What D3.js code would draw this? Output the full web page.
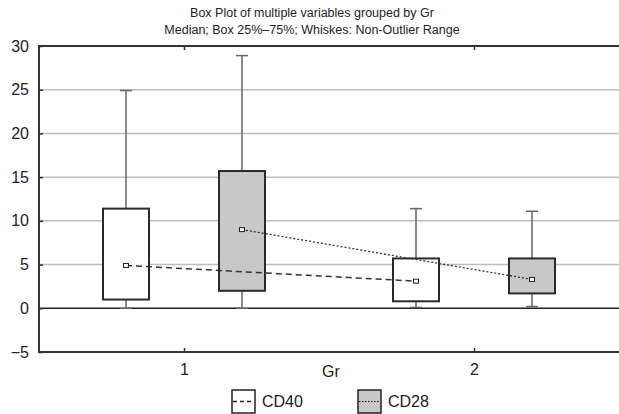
<!DOCTYPE html>
<html>
<head>
<meta charset="utf-8">
<script src="https://cdn.jsdelivr.net/npm/d3@7"></script>
<style>
  body { margin: 0; background: #fff; }
  svg text { font-family: "Liberation Sans Narrow", "Liberation Sans", Arial, sans-serif; fill: #222; }
</style>
</head>
<body>
<div id="chart"></div>
<script>
"use strict";

// groups on the x axis
var groups = [1, 2];
var seriesNames = ["CD40", "CD28"];
var seriesFill = ["#ffffff", "#c8c8c8"];
var seriesDash = ["6,4", "2,2"];

// per series, one value per group
var whiskerMin = [[0, 0.1], [0, 0.2]];
var boxLow = [[1.0, 0.8], [2.0, 1.7]];
var median = [[4.9, 3.1], [9.0, 3.3]];
var boxHigh = [[11.4, 5.7], [15.7, 5.7]];
var whiskerMax = [[24.9, 11.4], [28.9, 11.1]];

var yTicks = [-5, 0, 5, 10, 15, 20, 25, 30];

var width = 619, height = 414;
var margin = { top: 46, right: 0, bottom: 62, left: 39 };

var svg = d3.select("#chart").append("svg")
  .attr("width", width)
  .attr("height", height);

var x = d3.scaleLinear().domain([0.5, 2.5]).range([margin.left, width - margin.right]);
var y = d3.scaleLinear().domain([-5, 30]).range([height - margin.bottom, margin.top]);

var offset = 0.2;  // series offset from the group centre, in x units
var boxW = 46;

// title
svg.append("text")
  .attr("x", 312).attr("y", 17)
  .attr("text-anchor", "middle")
  .attr("font-size", 12.5)
  .text("Box Plot of multiple variables grouped by Gr");
svg.append("text")
  .attr("x", 312).attr("y", 34)
  .attr("text-anchor", "middle")
  .attr("font-size", 12.5)
  .text("Median; Box 25%\u201375%; Whiskes: Non-Outlier Range");

// grid lines
svg.append("g").selectAll("line")
  .data(yTicks.filter(function(d) { return d > 0 && d < 30; }))
  .enter().append("line")
  .attr("x1", margin.left).attr("x2", width)
  .attr("y1", function(d) { return y(d); })
  .attr("y2", function(d) { return y(d); })
  .attr("stroke", "#bdbdbd")
  .attr("stroke-width", 1.5);

// zero line
svg.append("line")
  .attr("x1", margin.left).attr("x2", width)
  .attr("y1", y(0)).attr("y2", y(0))
  .attr("stroke", "#222").attr("stroke-width", 1.5);

// y axis
var yAxis = svg.append("g")
  .attr("transform", "translate(" + margin.left + ",0)")
  .call(d3.axisLeft(y).tickValues(yTicks).tickSize(-4).tickPadding(10)
    .tickFormat(function(d) { return d < 0 ? "\u2212" + Math.abs(d) : d; }));
yAxis.select(".domain").remove();
yAxis.selectAll(".tick line").attr("stroke", "#333").attr("stroke-width", 1.5);
yAxis.selectAll("text").attr("font-size", 16).attr("fill", "#222");

// x axis (bottom) and top frame
var xAxis = svg.append("g")
  .attr("transform", "translate(0," + y(-5) + ")")
  .call(d3.axisBottom(x).tickValues(groups).tickSize(-4).tickPadding(12).tickFormat(d3.format("d")));
xAxis.select(".domain").remove();
xAxis.selectAll(".tick line").attr("stroke", "#333").attr("stroke-width", 1.5);
xAxis.selectAll("text").attr("font-size", 16).attr("fill", "#222");

var xTop = svg.append("g")
  .attr("transform", "translate(0," + y(30) + ")")
  .call(d3.axisTop(x).tickValues(groups).tickSize(-4).tickFormat(""));
xTop.select(".domain").remove();
xTop.selectAll(".tick line").attr("stroke", "#333").attr("stroke-width", 1.5);

svg.append("path")
  .attr("d", "M" + width + "," + y(30) + "H" + margin.left + "V" + y(-5) + "H" + width)
  .attr("fill", "none")
  .attr("stroke", "#333")
  .attr("stroke-width", 2);

svg.append("text")
  .attr("x", 331).attr("y", 377)
  .attr("text-anchor", "middle")
  .attr("font-size", 16)
  .text("Gr");

// boxes
seriesNames.forEach(function(name, s) {
  var g = svg.append("g");
  var cx = function(i) { return x(groups[i] + (s === 0 ? -offset : offset)); };
  var idx = groups.map(function(d, i) { return i; });

  // whiskers
  g.selectAll("line.whisker").data(idx).enter().append("line")
    .attr("x1", cx).attr("x2", cx)
    .attr("y1", function(i) { return y(whiskerMin[s][i]); })
    .attr("y2", function(i) { return y(whiskerMax[s][i]); })
    .attr("stroke", "#666").attr("stroke-width", 1.5);
  g.selectAll("line.capTop").data(idx).enter().append("line")
    .attr("x1", function(i) { return cx(i) - 6; })
    .attr("x2", function(i) { return cx(i) + 6; })
    .attr("y1", function(i) { return y(whiskerMax[s][i]); })
    .attr("y2", function(i) { return y(whiskerMax[s][i]); })
    .attr("stroke", "#666").attr("stroke-width", 1.5);
  g.selectAll("line.capBot").data(idx).enter().append("line")
    .attr("x1", function(i) { return cx(i) - 6; })
    .attr("x2", function(i) { return cx(i) + 6; })
    .attr("y1", function(i) { return y(whiskerMin[s][i]); })
    .attr("y2", function(i) { return y(whiskerMin[s][i]); })
    .attr("stroke", "#666").attr("stroke-width", 1.5);

  g.selectAll("rect.box").data(idx).enter().append("rect")
    .attr("x", function(i) { return cx(i) - boxW / 2; })
    .attr("y", function(i) { return y(boxHigh[s][i]); })
    .attr("width", boxW)
    .attr("height", function(i) { return y(boxLow[s][i]) - y(boxHigh[s][i]); })
    .attr("fill", seriesFill[s])
    .attr("stroke", "#2a2a2a")
    .attr("stroke-width", 2);
});

// median lines and markers
seriesNames.forEach(function(name, s) {
  var pts = groups.map(function(d, i) {
    return [x(d + (s === 0 ? -offset : offset)), y(median[s][i])];
  });
  svg.append("path")
    .attr("d", d3.line()(pts))
    .attr("fill", "none")
    .attr("stroke", "#333")
    .attr("stroke-width", s === 0 ? 1.5 : 1.3)
    .attr("stroke-dasharray", seriesDash[s]);
  svg.append("g").selectAll("rect").data(pts).enter().append("rect")
    .attr("x", function(d) { return d[0] - 2.5; })
    .attr("y", function(d) { return d[1] - 2; })
    .attr("width", 5).attr("height", 4)
    .attr("fill", "#fff")
    .attr("stroke", "#222").attr("stroke-width", 1);
});

// legend
var legendX = [232, 358];
seriesNames.forEach(function(name, s) {
  var lg = svg.append("g").attr("transform", "translate(" + legendX[s] + ",390)");
  lg.append("rect")
    .attr("width", 23).attr("height", 23)
    .attr("fill", seriesFill[s])
    .attr("stroke", "#222").attr("stroke-width", 1.5);
  lg.append("line")
    .attr("x1", 1).attr("x2", 22).attr("y1", 11.5).attr("y2", 11.5)
    .attr("stroke", "#222").attr("stroke-width", s === 0 ? 1.5 : 1.2)
    .attr("stroke-dasharray", s === 0 ? "4,3" : "1.5,1.5");
  lg.append("text")
    .attr("x", 30).attr("y", 17)
    .attr("font-size", 16)
    .text(name);
});
</script>
</body>
</html>
